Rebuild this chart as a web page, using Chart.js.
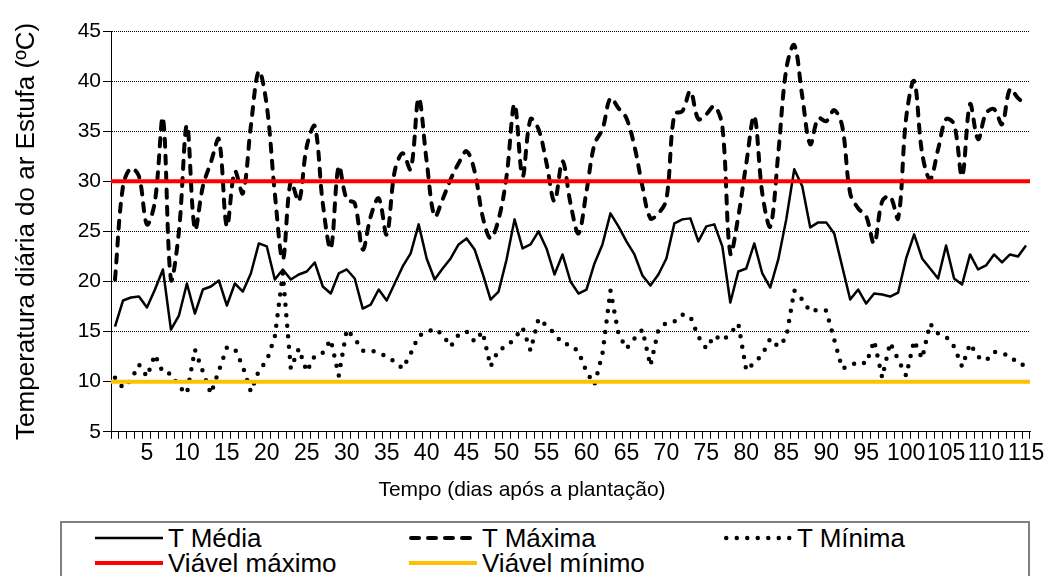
<!DOCTYPE html>
<html lang="pt">
<head>
<meta charset="utf-8">
<title>Temperatura diária do ar na estufa</title>
<script src="https://cdn.jsdelivr.net/npm/chart.js@4.4.1/dist/chart.umd.min.js"></script>
<style>
  html, body { margin: 0; padding: 0; background: #fff; }
  #wrap { position: relative; width: 1051px; height: 576px; overflow: hidden; font-family: 'Liberation Sans', Arial, sans-serif; }
  #chart { position: absolute; left: 0; top: 0; width: 1051px; height: 515px; }
  #legenda { position: absolute; left: 60px; top: 521px; width: 970px; height: 70px; border: 2px solid #808080; box-sizing: border-box; }
  .item { position: absolute; display: flex; align-items: center; height: 25px; font-size: 26px; line-height: 25px; color: #000; white-space: nowrap; }
  .item svg { margin-right: 5px; flex: none; }
</style>
</head>
<body>
<div id="wrap">
  <div id="chart"><canvas></canvas></div>
  <div id="legenda"></div>
</div>
<script>
// dias após a plantação
const dias = [
  1, 2, 3, 4, 5, 6, 7, 8, 9, 10, 11, 12, 13, 14, 15, 16, 17, 18, 19, 20,
  21, 22, 23, 24, 25, 26, 27, 28, 29, 30, 31, 32, 33, 34, 35, 36, 37, 38, 39, 40,
  41, 42, 43, 44, 45, 46, 47, 48, 49, 50, 51, 52, 53, 54, 55, 56, 57, 58, 59, 60,
  61, 62, 63, 64, 65, 66, 67, 68, 69, 70, 71, 72, 73, 74, 75, 76, 77, 78, 79, 80,
  81, 82, 83, 84, 85, 86, 87, 88, 89, 90, 91, 92, 93, 94, 95, 96, 97, 98, 99, 100,
  101, 102, 103, 104, 105, 106, 107, 108, 109, 110, 111, 112, 113, 114, 115
];

// só estes dias levam rótulo no eixo x
const rotulosX = [5, 10, 15, 20, 25, 30, 35, 40, 45, 50, 55, 60, 65, 70, 75, 80, 85, 90, 95, 100, 105, 110, 115];
const ticksY = [5, 10, 15, 20, 25, 30, 35, 40, 45];

const tMedia = [
  15.5, 18.1, 18.4, 18.5, 17.4, 19.2, 21.2, 15.2, 16.6, 19.8, 16.8, 19.2, 19.5, 20.1, 17.6, 19.8, 19.0, 20.8, 23.8, 23.5,
  20.2, 21.2, 20.2, 20.7, 21.0, 21.9, 19.5, 18.8, 20.8, 21.2, 20.3, 17.3, 17.7, 19.2, 18.1, 19.8, 21.5, 22.8, 25.7, 22.3,
  20.2, 21.3, 22.3, 23.7, 24.3, 23.2, 20.8, 18.2, 19.0, 22.2, 26.2, 23.3, 23.7, 25.0, 23.3, 20.7, 22.7, 20.0, 18.8, 19.2,
  21.8, 23.7, 26.8, 25.5, 24.0, 22.7, 20.6, 19.6, 20.7, 22.3, 25.8, 26.2, 26.3, 24.0, 25.5, 25.7, 23.5, 17.9, 21.0, 21.3,
  23.8, 20.8, 19.4, 22.2, 26.2, 31.2, 29.5, 25.4, 25.9, 25.9, 24.8, 21.5, 18.2, 19.2, 17.8, 18.8, 18.7, 18.5, 18.9, 22.3,
  24.7, 22.3, 21.3, 20.3, 23.6, 20.3, 19.7, 22.7, 21.2, 21.6, 22.7, 21.9, 22.7, 22.5, 23.6
];

const tMaxima = [
  20.2, 29.5, 31.3, 30.5, 25.7, 28.0, 36.3, 20.2, 25.0, 35.6, 25.2, 29.5, 31.9, 34.2, 25.5, 31.0, 28.8, 35.5, 41.0, 37.5,
  28.8, 22.2, 30.0, 28.0, 33.5, 35.5, 27.8, 23.3, 31.5, 28.2, 27.8, 23.2, 26.5, 28.3, 24.7, 31.0, 32.8, 31.2, 38.3, 32.0,
  26.5, 28.2, 30.2, 31.8, 33.0, 31.0, 26.5, 24.3, 26.2, 30.5, 37.7, 30.5, 36.2, 35.2, 31.8, 28.0, 32.0, 27.8, 24.8, 29.0,
  33.7, 35.2, 38.3, 37.3, 36.3, 33.5, 29.5, 26.3, 26.8, 28.2, 36.7, 37.0, 39.0, 36.2, 36.7, 37.5, 35.5, 22.8, 26.5, 31.8,
  36.5, 28.8, 25.5, 32.8, 41.2, 43.6, 38.5, 33.7, 36.3, 36.0, 37.1, 35.5, 28.8, 27.3, 26.5, 23.8, 28.0, 28.5, 26.3, 36.3,
  40.0, 32.8, 30.2, 33.2, 36.2, 35.7, 30.5, 37.7, 34.2, 36.8, 37.2, 35.7, 39.2, 38.3, 37.7
];

const tMinima = [
  10.4, 9.4, 10.2, 11.7, 10.5, 12.7, 10.9, 10.8, 9.5, 8.8, 13.2, 11.0, 8.8, 11.1, 13.4, 13.3, 11.5, 9.0, 11.1, 12.1,
  14.5, 20.8, 11.3, 13.3, 11.0, 12.6, 12.9, 14.2, 10.6, 15.2, 14.3, 13.1, 13.1, 12.9, 12.5, 12.0, 11.3, 12.8, 14.6, 14.9,
  15.3, 14.7, 13.5, 14.7, 15.0, 14.0, 15.0, 11.5, 13.2, 13.5, 14.3, 15.4, 13.1, 16.3, 15.6, 14.8, 13.8, 13.7, 13.0, 11.0,
  9.7, 12.8, 19.1, 14.8, 13.3, 14.3, 15.2, 11.6, 15.2, 15.9, 16.0, 16.7, 16.5, 14.5, 13.3, 14.6, 14.1, 14.8, 15.8, 11.1,
  11.9, 12.7, 14.3, 13.5, 14.4, 19.1, 18.2, 17.0, 17.2, 17.1, 14.2, 11.3, 11.6, 12.0, 11.8, 14.1, 10.4, 13.9, 12.2, 10.6,
  14.1, 12.3, 15.8, 14.8, 14.5, 13.5, 11.5, 13.8, 12.5, 12.1, 13.0, 12.8, 12.6, 11.8, 11.6
];

// limites de temperatura viável
const viavelMaximo = 30;
const viavelMinimo = 10;

const fonte = "'Liberation Sans', Arial, sans-serif";

const series = [
  { label: 'T Média', data: tMedia, cor: '#000000', largura: 2.5, traco: [], cap: 'butt', tension: 0 },
  { label: 'T Máxima', data: tMaxima, cor: '#000000', largura: 4, traco: [8, 9], cap: 'round', tension: 0.35 },
  { label: 'T Mínima', data: tMinima, cor: '#000000', largura: 4.5, traco: [0, 10.5], cap: 'round', tension: 0 }
];

const limites = [
  { label: 'Viável máximo', valor: viavelMaximo, cor: '#FF0000' },
  { label: 'Viável mínimo', valor: viavelMinimo, cor: '#FFC000' }
];

// linhas horizontais dos limites, de ponta a ponta da área do gráfico
const linhasLimite = {
  id: 'linhasLimite',
  afterDatasetsDraw(chart) {
    const { ctx, chartArea, scales } = chart;
    ctx.save();
    limites.forEach((l) => {
      const py = scales.y.getPixelForValue(l.valor);
      ctx.strokeStyle = l.cor;
      ctx.lineWidth = 4;
      ctx.beginPath();
      ctx.moveTo(chartArea.left, py);
      ctx.lineTo(chartArea.right, py);
      ctx.stroke();
    });
    ctx.restore();
  }
};

new Chart(document.querySelector('#chart canvas'), {
  type: 'line',
  data: {
    labels: dias,
    datasets: series.map((s) => ({
      label: s.label,
      data: s.data,
      borderColor: s.cor,
      borderWidth: s.largura,
      borderDash: s.traco,
      borderCapStyle: s.cap,
      borderJoinStyle: 'round',
      tension: s.tension,
      pointRadius: 0,
      fill: false
    }))
  },
  options: {
    responsive: true,
    maintainAspectRatio: false,
    animation: false,
    layout: { padding: { left: 14, top: 31, right: 21, bottom: 0 } },
    plugins: {
      legend: { display: false },
      tooltip: { enabled: false },
      title: {
        display: true,
        position: 'bottom',
        text: 'Tempo (dias após a plantação)',
        color: '#000',
        font: { family: fonte, size: 21, weight: 'normal' },
        padding: { top: 0, bottom: 12 }
      }
    },
    scales: {
      x: {
        type: 'category',
        offset: true,
        grid: { drawOnChartArea: false, drawTicks: true, tickLength: 7, tickColor: '#000', tickBorderDash: [], offset: true },
        border: { color: '#000', width: 1 },
        ticks: {
          autoSkip: false,
          maxRotation: 0,
          minRotation: 0,
          padding: 1,
          color: '#000',
          font: { family: fonte, size: 23 },
          callback(value, index) {
            const d = dias[index];
            return rotulosX.includes(d) ? String(d) : '';
          }
        },
        afterFit(scale) { scale.height = 46; }
      },
      y: {
        min: ticksY[0],
        max: ticksY[ticksY.length - 1],
        ticks: { stepSize: ticksY[1] - ticksY[0], padding: 2, color: '#000', font: { family: fonte, size: 21 } },
        grid: { color: '#000', lineWidth: 1, tickLength: 8, tickColor: '#000', tickBorderDash: [] },
        border: { color: '#000', width: 1, dash: [1, 1] },
        title: {
          display: true,
          text: 'Temperatura diária do ar Estufa (ºC)',
          color: '#000',
          font: { family: fonte, size: 26, lineHeight: 1 },
          padding: { top: 0, bottom: 0 }
        },
        afterFit(scale) { scale.width = 97; }
      }
    }
  },
  plugins: [linhasLimite]
});

// legenda em caixa, três colunas e duas linhas
const legenda = document.getElementById('legenda');
const colunas = [33, 347, 662];
const linhas = [2.5, 27.5];

function amostra(cor, largura, traco, cap) {
  const svg = document.createElementNS('http://www.w3.org/2000/svg', 'svg');
  svg.setAttribute('width', '68');
  svg.setAttribute('height', '10');
  const ln = document.createElementNS('http://www.w3.org/2000/svg', 'line');
  const x0 = cap === 'round' ? largura / 2 : 0;
  ln.setAttribute('x1', x0);
  ln.setAttribute('x2', 68 - x0);
  ln.setAttribute('y1', '5');
  ln.setAttribute('y2', '5');
  ln.setAttribute('stroke', cor);
  ln.setAttribute('stroke-width', largura);
  ln.setAttribute('stroke-linecap', cap);
  if (traco.length) ln.setAttribute('stroke-dasharray', traco.join(' '));
  svg.appendChild(ln);
  return svg;
}

const itens = [
  ...series.map((s) => ({ label: s.label, svg: amostra(s.cor, s.largura, s.traco, s.cap) })),
  ...limites.map((l) => ({ label: l.label, svg: amostra(l.cor, 4, [], 'butt') }))
];

itens.forEach((it, i) => {
  const el = document.createElement('div');
  el.className = 'item';
  el.style.left = colunas[i % 3] + 'px';
  el.style.top = linhas[Math.floor(i / 3)] + 'px';
  el.appendChild(it.svg);
  el.appendChild(document.createTextNode(it.label));
  legenda.appendChild(el);
});
</script>
</body>
</html>
